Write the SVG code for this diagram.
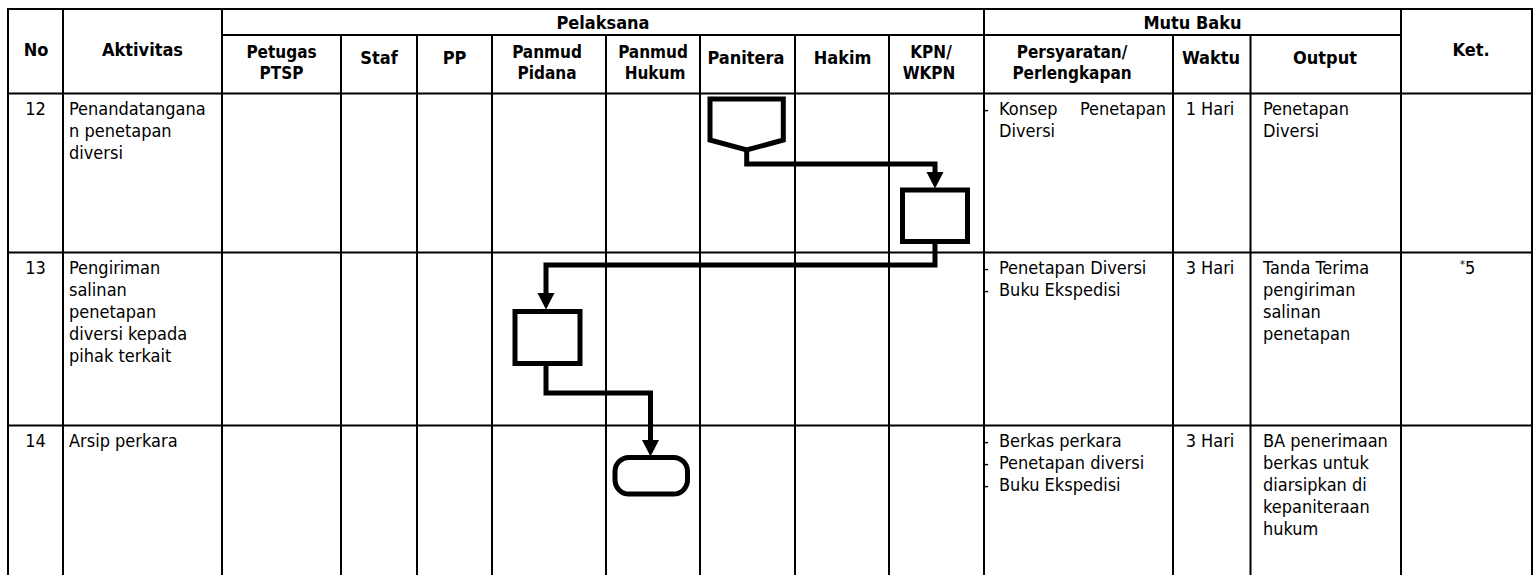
<svg xmlns="http://www.w3.org/2000/svg" width="1538" height="575" viewBox="0 0 1538 575">
<style>
.grid line{stroke:#000;stroke-width:2;stroke-linecap:square}
text{font-family:"DejaVu Sans Condensed","DejaVu Sans",sans-serif;font-stretch:condensed;font-size:18px;fill:#000}
.h{font-weight:bold;text-anchor:middle}
.h2{font-size:17px}
.c{text-anchor:middle}
.shape{fill:#fff;stroke:#000;stroke-width:5;stroke-linejoin:miter}
.conn path{fill:none;stroke:#000;stroke-width:5;stroke-linejoin:miter}
.arrow{fill:#000;stroke:none}
</style>
<rect x="0" y="0" width="1538" height="575" fill="#fff"/>
<g id="grid" class="grid">
<line x1="8" y1="9" x2="1532" y2="9"/>
<line x1="222" y1="35" x2="1401" y2="35"/>
<line x1="8" y1="93.5" x2="1532" y2="93.5"/>
<line x1="8" y1="252.5" x2="1532" y2="252.5"/>
<line x1="8" y1="425.5" x2="1532" y2="425.5"/>
<line x1="8" y1="9" x2="8" y2="576"/>
<line x1="63" y1="9" x2="63" y2="576"/>
<line x1="222" y1="9" x2="222" y2="576"/>
<line x1="341" y1="35" x2="341" y2="576"/>
<line x1="417" y1="35" x2="417" y2="576"/>
<line x1="492" y1="35" x2="492" y2="576"/>
<line x1="606" y1="35" x2="606" y2="576"/>
<line x1="700" y1="35" x2="700" y2="576"/>
<line x1="795" y1="35" x2="795" y2="576"/>
<line x1="889" y1="35" x2="889" y2="576"/>
<line x1="984" y1="9" x2="984" y2="576"/>
<line x1="1173" y1="35" x2="1173" y2="576"/>
<line x1="1250.5" y1="35" x2="1250.5" y2="576"/>
<line x1="1401" y1="9" x2="1401" y2="576"/>
<line x1="1532" y1="9" x2="1532" y2="576"/>
</g>
<g id="header">
<text class="h" x="603" y="28.5">Pelaksana</text>
<text class="h" x="1192.5" y="28.5">Mutu Baku</text>
<text class="h" x="36" y="56">No</text>
<text class="h" x="142.5" y="56">Aktivitas</text>
<text class="h" x="1471" y="56">Ket.</text>
<text class="h h2" x="281.5" y="58">Petugas</text>
<text class="h h2" x="281.5" y="78.5">PTSP</text>
<text class="h" x="379" y="63.5">Staf</text>
<text class="h" x="454.5" y="63.5">PP</text>
<text class="h h2" x="547" y="58">Panmud</text>
<text class="h h2" x="547" y="78.5">Pidana</text>
<text class="h h2" x="653" y="58">Panmud</text>
<text class="h h2" x="655" y="78.5">Hukum</text>
<text class="h" x="746" y="63.5">Panitera</text>
<text class="h" x="842.5" y="63.5">Hakim</text>
<text class="h h2" x="931" y="58">KPN/</text>
<text class="h h2" x="929" y="78.5">WKPN</text>
<text class="h h2" x="1072" y="58">Persyaratan/</text>
<text class="h h2" x="1072" y="78.5">Perlengkapan</text>
<text class="h" x="1211" y="63.5">Waktu</text>
<text class="h" x="1325" y="63.5">Output</text>
</g>
<g id="row12">
<text class="c" x="35.5" y="114.5">12</text>
<text x="69" y="114.5">Penandatangana</text>
<text x="69" y="136.5">n penetapan</text>
<text x="69" y="158.5">diversi</text>
<text x="983" y="114.5">-</text>
<text x="999" y="114.5">Konsep</text>
<text x="1166" y="114.5" text-anchor="end">Penetapan</text>
<text x="999" y="136.5">Diversi</text>
<text class="c" x="1210" y="114.5">1 Hari</text>
<text x="1263" y="114.5">Penetapan</text>
<text x="1263" y="136.5">Diversi</text>
</g>
<g id="row13">
<text class="c" x="35.5" y="273.5">13</text>
<text x="69" y="273.5">Pengiriman</text>
<text x="69" y="295.5">salinan</text>
<text x="69" y="317.5">penetapan</text>
<text x="69" y="339.5">diversi kepada</text>
<text x="69" y="361.5">pihak terkait</text>
<text x="983" y="273.5">-</text>
<text x="999" y="273.5">Penetapan Diversi</text>
<text x="983" y="295.5">-</text>
<text x="999" y="295.5">Buku Ekspedisi</text>
<text class="c" x="1210" y="273.5">3 Hari</text>
<text x="1263" y="273.5">Tanda Terima</text>
<text x="1263" y="295.5">pengiriman</text>
<text x="1263" y="317.5">salinan</text>
<text x="1263" y="339.5">penetapan</text>
<text x="1460" y="273.5"><tspan font-size="11" dy="-6">*</tspan><tspan dy="6">5</tspan></text>
</g>
<g id="row14">
<text class="c" x="35.5" y="446.5">14</text>
<text x="69" y="446.5">Arsip perkara</text>
<text x="983" y="446.5">-</text>
<text x="999" y="446.5">Berkas perkara</text>
<text x="983" y="468.5">-</text>
<text x="999" y="468.5">Penetapan diversi</text>
<text x="983" y="490.5">-</text>
<text x="999" y="490.5">Buku Ekspedisi</text>
<text class="c" x="1210" y="446.5">3 Hari</text>
<text x="1263" y="446.5">BA penerimaan</text>
<text x="1263" y="468.5">berkas untuk</text>
<text x="1263" y="490.5">diarsipkan di</text>
<text x="1263" y="512.5">kepaniteraan</text>
<text x="1263" y="534.5">hukum</text>
</g>
<g id="connectors" class="conn">
<path d="M746.7 150 V164 H935 V176"/>
<polygon class="arrow" points="926.5,172 943.5,172 935,188.5"/>
<path d="M935 243 V265 H546 V297"/>
<polygon class="arrow" points="537.5,293 554.5,293 546,309.5"/>
<path d="M546 364 V393 H650.5 V444"/>
<polygon class="arrow" points="642,440 659,440 650.5,456.5"/>
</g>
<g id="node-offpage">
<polygon class="shape" points="710,99 783.3,99 783.3,140 746.7,150 710,140"/>
</g>
<g id="node-kpn">
<rect class="shape" x="902.5" y="190" width="65" height="51.5"/>
</g>
<g id="node-pidana">
<rect class="shape" x="515" y="311.5" width="65" height="52"/>
</g>
<g id="node-end">
<rect class="shape" x="615" y="457.5" width="72.5" height="36.5" rx="14" ry="14"/>
</g>
</svg>
